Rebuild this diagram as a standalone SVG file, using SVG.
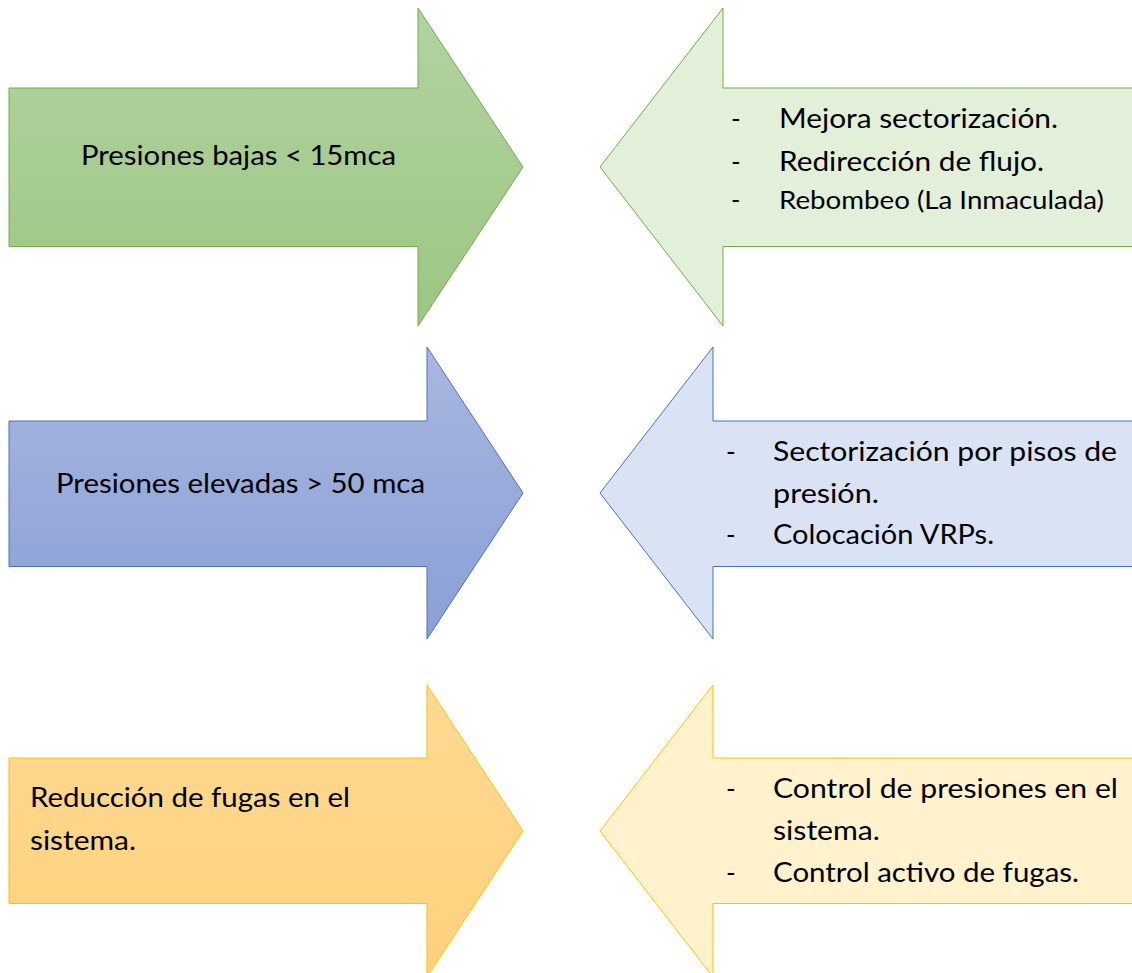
<svg xmlns="http://www.w3.org/2000/svg" width="1132" height="973" viewBox="0 0 1132 973">
<defs>
<linearGradient id="gGreen" x1="0" y1="0" x2="0" y2="1"><stop offset="0" stop-color="#b2d3a1"/><stop offset="1" stop-color="#9cc682"/></linearGradient>
<linearGradient id="gBlue" x1="0" y1="0" x2="0" y2="1"><stop offset="0" stop-color="#a8b7df"/><stop offset="1" stop-color="#8a9fd6"/></linearGradient>
<linearGradient id="gOrange" x1="0" y1="0" x2="0" y2="1"><stop offset="0" stop-color="#fed993"/><stop offset="1" stop-color="#fed27c"/></linearGradient>
</defs>
<style>
text{font-family:Lato,"Liberation Sans",sans-serif;font-size:26px;fill:#000;}
.sm{font-size:25px;}
.g{stroke:#70ad47;stroke-width:1;}
.b{stroke:#4472c4;stroke-width:1;}
.o{stroke:#ffc000;stroke-width:1;}
</style>
<rect width="1132" height="973" fill="#fff"/>
<g id="arrow-low-pressure">
<path class="g" fill="url(#gGreen)" d="M9,88 H418 V8 L523,167 L418,326 V246.5 H9 Z"/>
<text x="81" y="165" textLength="315" lengthAdjust="spacingAndGlyphs">Presiones bajas &lt; 15mca</text>
</g>
<g id="arrow-low-actions">
<path class="g" fill="#e2efd9" d="M1135,88 H723 V8 L600,167 L723,326 V246.5 H1135 Z"/>
<text x="731" y="128">-</text>
<text x="779" y="128" textLength="279" lengthAdjust="spacingAndGlyphs">Mejora sectorización.</text>
<text x="731" y="170.5">-</text>
<text x="779" y="170.5" textLength="265" lengthAdjust="spacingAndGlyphs">Redirección de flujo.</text>
<text x="731" y="209" class="sm">-</text>
<text x="779" y="209" class="sm" textLength="325" lengthAdjust="spacingAndGlyphs">Rebombeo (La Inmaculada)</text>
</g>
<g id="arrow-high-pressure">
<path class="b" fill="url(#gBlue)" d="M9,421 H427 V347 L523,493 L427,639 V566.5 H9 Z"/>
<text x="56" y="492.5" textLength="369" lengthAdjust="spacingAndGlyphs">Presiones elevadas &gt; 50 mca</text>
</g>
<g id="arrow-high-actions">
<path class="b" fill="#dae3f3" d="M1135,421 H713 V347 L600,493 L713,639 V566.5 H1135 Z"/>
<text x="726" y="460.5">-</text>
<text x="773" y="460.5" textLength="344" lengthAdjust="spacingAndGlyphs">Sectorización por pisos de</text>
<text x="773" y="502.5" textLength="106" lengthAdjust="spacingAndGlyphs">presión.</text>
<text x="726" y="544">-</text>
<text x="773" y="544" textLength="221" lengthAdjust="spacingAndGlyphs">Colocación VRPs.</text>
</g>
<g id="arrow-leak-reduction">
<path class="o" fill="url(#gOrange)" d="M9,758 H427 V685 L523,831 L427,977 V903.5 H9 Z"/>
<text x="30" y="807" textLength="320" lengthAdjust="spacingAndGlyphs">Reducción de fugas en el</text>
<text x="30" y="850" textLength="106" lengthAdjust="spacingAndGlyphs">sistema.</text>
</g>
<g id="arrow-leak-actions">
<path class="o" fill="#fff2cc" d="M1135,758 H713 V685 L600,831 L713,977 V903.5 H1135 Z"/>
<text x="726" y="798">-</text>
<text x="773" y="798" textLength="345" lengthAdjust="spacingAndGlyphs">Control de presiones en el</text>
<text x="773" y="840" textLength="107" lengthAdjust="spacingAndGlyphs">sistema.</text>
<text x="726" y="882">-</text>
<text x="773" y="882" textLength="306" lengthAdjust="spacingAndGlyphs">Control activo de fugas.</text>
</g>
<g id="connectors"></g>
</svg>
